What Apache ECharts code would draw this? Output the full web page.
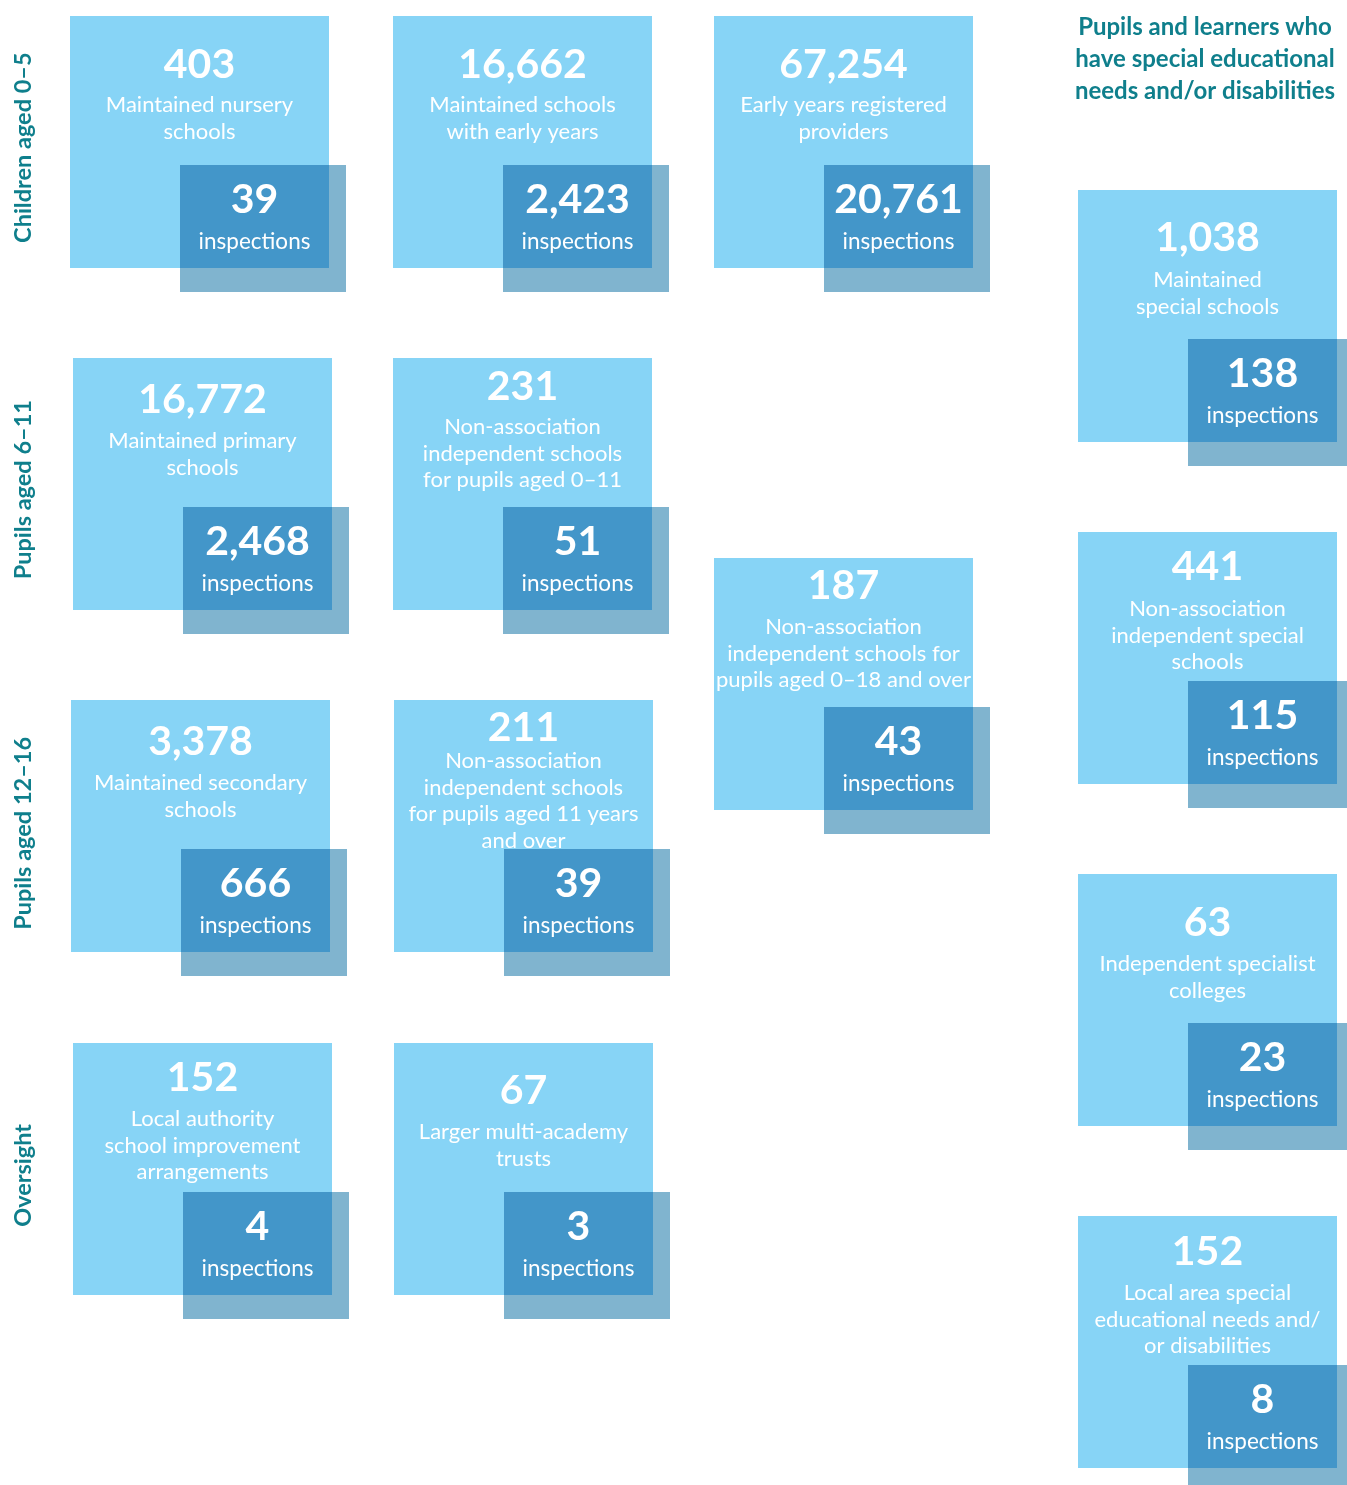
<!DOCTYPE html>
<html>
<head>
<meta charset="utf-8">
<script src="https://cdn.jsdelivr.net/npm/echarts@6/dist/echarts.min.js"></script>
<style>
html,body{margin:0;padding:0;background:#fff;}
#chart{width:1347px;height:1485px;}
</style>
</head>
<body>
<div id="chart"></div>
<script>
// ---- Data ----
const categories = [
  'Maintained nursery\nschools',
  'Maintained schools\nwith early years',
  'Early years registered\nproviders',
  'Maintained primary\nschools',
  'Non-association\nindependent schools\nfor pupils aged 0–11',
  'Non-association\nindependent schools for\npupils aged 0–18 and over',
  'Maintained secondary\nschools',
  'Non-association\nindependent schools\nfor pupils aged 11 years\nand over',
  'Local authority\nschool improvement\narrangements',
  'Larger multi-academy\ntrusts',
  'Maintained\nspecial schools',
  'Non-association\nindependent special\nschools',
  'Independent specialist\ncolleges',
  'Local area special\neducational needs and/\nor disabilities'
];
const totals = ['403', '16,662', '67,254', '16,772', '231', '187', '3,378', '211', '152', '67', '1,038', '441', '63', '152'];
const inspections = ['39', '2,423', '20,761', '2,468', '51', '43', '666', '39', '4', '3', '138', '115', '23', '8'];
const rowLabels = ['Children aged 0–5', 'Pupils aged 6–11', 'Pupils aged 12–16', 'Oversight'];
const sideTitle = 'Pupils and learners who\nhave special educational\nneeds and/or disabilities';

// ---- Layout (grid units: columns / rows; text offsets in px) ----
const colPos = [0, 1.003, 2, 0.009, 1.003, 2, 0.003, 1.006, 0.009, 1.006, 3.13, 3.13, 3.13, 3.13];
const rowPos = [0, 0, 0, 1, 1, 1.585, 2, 2, 3.003, 3.003, 0.509, 1.509, 2.509, 3.509];
const numOffset = [49, 49, 49, 42, 29, 28, 42, 28, 35, 48, 48, 35, 49, 36];
const descOffset = [89, 89, 89, 83, 69, 69, 83, 61, 76, 89, 90, 77, 90, 77];
const rowLabelPos = [0.385, 1.385, 2.39, 3.39];

const LIGHT = '#87D4F6', DARK = '#4396C9', DARK_OUT = '#80B4CF', TEAL = '#0F7F8C';
const FONT = 'Lato';
const BOX_W = 259, BOX_H = 252, D_DX = 110, D_DY = 149, D_W = 166, D_H = 127;
const LINE_H = 26.6;

const boxData = totals.map((t, i) => [colPos[i], rowPos[i], i]);
const rowData = rowLabels.map((r, i) => [0, rowLabelPos[i], i]);

const chart = echarts.init(document.getElementById('chart'), null, {renderer: 'canvas'});
chart.setOption({
  animation: false,
  backgroundColor: '#fff',
  title: {
    text: sideTitle,
    left: 1200, top: 6, textAlign: 'center',
    textStyle: {fontFamily: FONT, fontSize: 24, fontWeight: 'bold', color: TEAL, lineHeight: 32}
  },
  grid: {left: 70, top: 16, width: 1127, height: 1368},
  xAxis: {type: 'value', min: 0, max: 3.5, show: false},
  yAxis: {type: 'value', min: 0, max: 4, inverse: true, show: false},
  series: [
    {
      type: 'custom',
      clip: false,
      data: boxData,
      renderItem: function (params, api) {
        const i = api.value(2);
        const p = api.coord([api.value(0), api.value(1)]);
        const x = Math.round(p[0]), y = Math.round(p[1]);
        const dx = x + D_DX, dy = y + D_DY;
        const cx = x + BOX_W / 2;
        const dcx = dx + (BOX_W - D_DX) / 2;
        return {
          type: 'group',
          children: [
            {type: 'rect', shape: {x: x, y: y, width: BOX_W, height: BOX_H}, style: {fill: LIGHT}},
            {type: 'text', style: {x: cx, y: y + numOffset[i], text: totals[i], align: 'center', verticalAlign: 'middle',
              fontFamily: FONT, fontSize: 41, fontWeight: 'bold', fill: '#fff'}},
            {type: 'text', style: {x: cx, y: y + descOffset[i] - LINE_H / 2, text: categories[i], align: 'center', verticalAlign: 'top',
              fontFamily: FONT, fontSize: 22, lineHeight: LINE_H, fill: '#fff'}},
            {type: 'rect', shape: {x: dx, y: dy, width: D_W, height: D_H}, style: {fill: DARK_OUT}},
            {type: 'rect', shape: {x: dx, y: dy, width: BOX_W - D_DX, height: BOX_H - D_DY}, style: {fill: DARK}},
            {type: 'text', style: {x: dcx, y: dy + 35, text: inspections[i], align: 'center', verticalAlign: 'middle',
              fontFamily: FONT, fontSize: 41, fontWeight: 'bold', fill: '#fff'}},
            {type: 'text', style: {x: dcx, y: dy + 77, text: 'inspections', align: 'center', verticalAlign: 'middle',
              fontFamily: FONT, fontSize: 22.5, fill: '#fff'}}
          ]
        };
      }
    },
    {
      type: 'custom',
      clip: false,
      data: rowData,
      renderItem: function (params, api) {
        const i = api.value(2);
        const p = api.coord([api.value(0), api.value(1)]);
        return {
          type: 'text',
          x: 23, y: p[1], rotation: Math.PI / 2,
          style: {x: 0, y: 0, text: rowLabels[i], align: 'center', verticalAlign: 'middle',
            fontFamily: FONT, fontSize: 23.5, fontWeight: 'bold', fill: TEAL}
        };
      }
    }
  ]
});
</script>
</body>
</html>
